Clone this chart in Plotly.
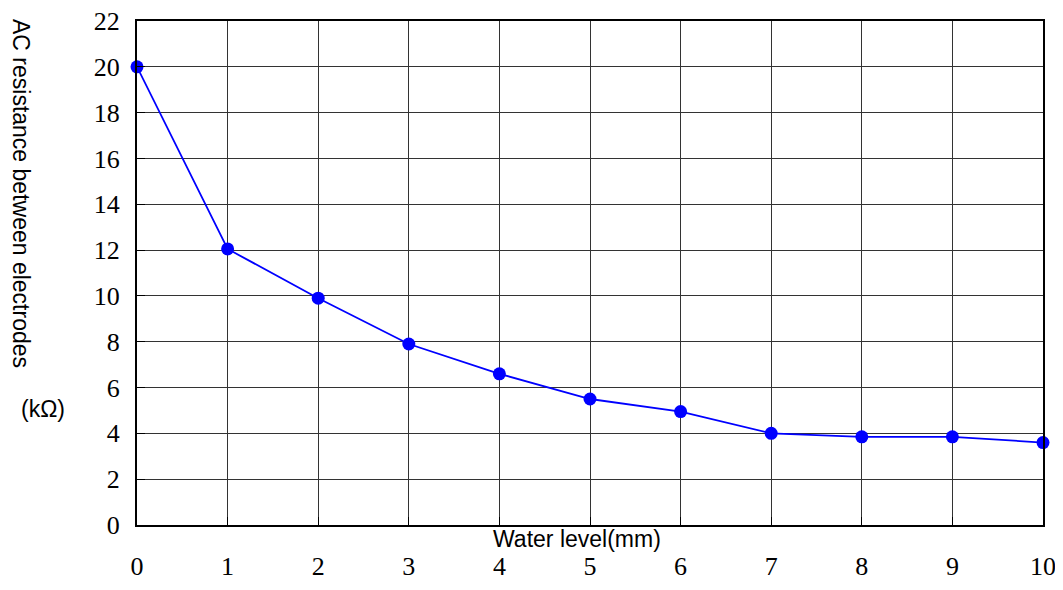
import plotly.graph_objects as go

water_level = [0, 1, 2, 3, 4, 5, 6, 7, 8, 9, 10]
resistance = [20.0, 12.05, 9.9, 7.9, 6.6, 5.5, 4.95, 4.0, 3.85, 3.85, 3.6]
y_ticks = [0, 2, 4, 6, 8, 10, 12, 14, 16, 18, 20, 22]
x_ticks = [0, 1, 2, 3, 4, 5, 6, 7, 8, 9, 10]

# page has an 8px body margin; size the figure so the plot area lands right
OFF = 8
W, H = 1063 - OFF, 590 - OFF
L, R, T, B = 137 - OFF, 20, 21 - OFF, 65
pw, ph = W - L - R, H - T - B


def px(xp):
    return (xp - OFF - L) / pw


def py(yp):
    return (H - B - (yp - OFF)) / ph


fig = go.Figure()
fig.add_trace(go.Scatter(
    x=water_level, y=resistance, mode="lines+markers",
    line=dict(color="#0000FF", width=1.8),
    marker=dict(color="#0000FF", size=13),
    cliponaxis=False, showlegend=False,
))

axis_common = dict(
    showline=True, linecolor="black", linewidth=2, mirror=True,
    showgrid=True, gridcolor="#333333", gridwidth=1,
    ticks="inside", ticklen=8, tickcolor="black", tickwidth=1,
    zeroline=False, automargin=False, ticklabeloverflow="allow",
    tickfont=dict(family="Liberation Serif", size=26, color="black"),
)

title_font = dict(family="Liberation Sans", size=23, color="black")

fig.update_layout(
    width=W, height=H,
    margin=dict(l=L, r=R, t=T, b=B),
    paper_bgcolor="white", plot_bgcolor="white",
    xaxis=dict(range=[0, 10], tickvals=x_ticks, ticklabelstandoff=17, **axis_common),
    yaxis=dict(range=[0, 22], tickvals=y_ticks, ticklabelstandoff=10, **axis_common),
    annotations=[
        dict(text="Water level(mm)", x=px(577), y=py(539), xref="paper", yref="paper",
             xanchor="center", yanchor="middle", showarrow=False, font=title_font),
        dict(text="AC resistance between electrodes", x=px(21), y=py(193),
             xref="paper", yref="paper", xanchor="center", yanchor="middle",
             showarrow=False, textangle=90, borderpad=0,
             font=dict(family="Liberation Sans", size=23, color="black")),
        dict(text="(kΩ)", x=px(43), y=py(409), xref="paper", yref="paper",
             xanchor="center", yanchor="middle", showarrow=False, font=title_font),
    ],
)

fig.write_html("out.html")
